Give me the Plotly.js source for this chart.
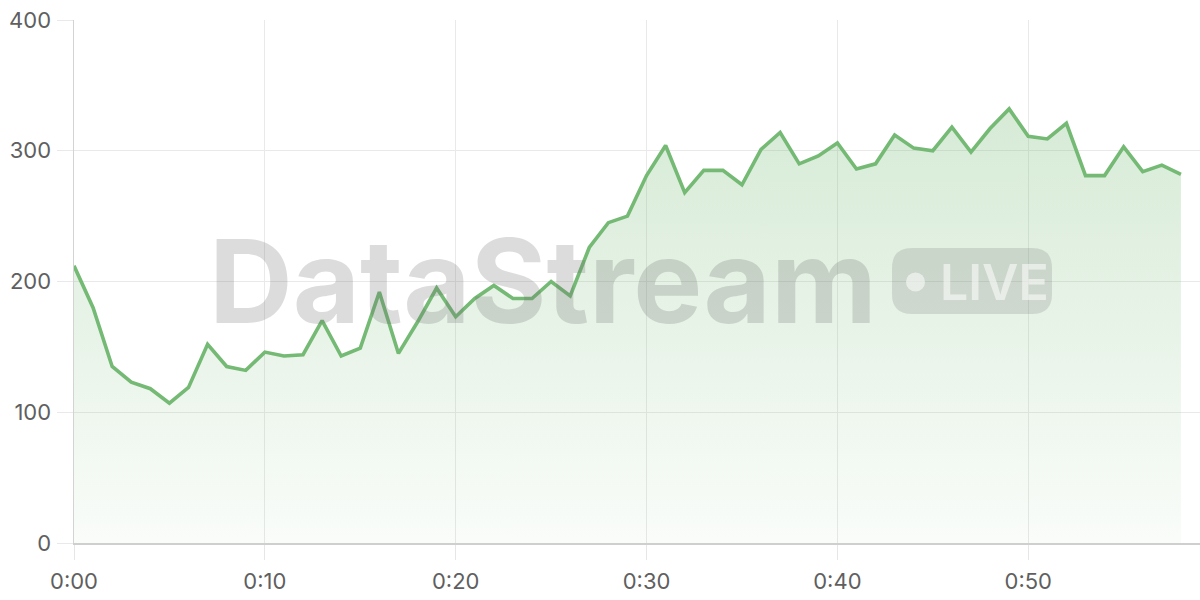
<!DOCTYPE html>
<html>
<head>
<meta charset="utf-8">
<script src="https://cdn.plot.ly/plotly-3.0.1.min.js"></script>
<style>
html,body{margin:0;padding:0;background:#fff;}
#chart{width:1200px;height:600px;}
</style>
</head>
<body>
<div id="chart"></div>
<script>
// Minutes since start (0:00 .. 0:58)
const minutes = [0,1,2,3,4,5,6,7,8,9,10,11,12,13,14,15,16,17,18,19,20,21,22,23,24,25,26,27,28,29,30,31,32,33,34,35,36,37,38,39,40,41,42,43,44,45,46,47,48,49,50,51,52,53,54,55,56,57,58];
const values = [212,180,135,123,118,107,119,152,135,132,146,143,144,170,143,149,192,145,169,195,173,187,197,187,187,200,189,226,245,250,281,304,268,285,285,274,301,314,290,296,306,286,290,312,302,300,318,299,317,332,311,309,321,281,281,303,284,289,282];
const tickVals = [0,10,20,30,40,50];
const tickLabels = ["0:00","0:10","0:20","0:30","0:40","0:50"];
const yTicks = [0,100,200,300,400];

const trace = {
  x: minutes, y: values, type: 'scatter', mode: 'lines',
  line: {color: '#74b974', width: 3.6, shape: 'linear'},
  fill: 'tozeroy',
  fillgradient: {type: 'vertical', start: 0, stop: 340,
    colorscale: [[0, 'rgba(116,185,116,0.04)'], [1, 'rgba(116,185,116,0.30)']]},
  hoverinfo: 'x+y'
};

// plot area in pixels: x 74..1200, y 20..543
const L = 74, R = 1200, T = 20, B = 543;
const px = v => (v - L) / (R - L);
const py = v => (B - v) / (B - T);
function roundRect(x0, y0, x1, y1, r) {
  const a = px(x0), b = px(x1), c = py(y1), d = py(y0);
  const rx = r / (R - L), ry = r / (B - T);
  return `M${a+rx},${c} L${b-rx},${c} Q${b},${c} ${b},${c+ry} L${b},${d-ry} Q${b},${d} ${b-rx},${d} L${a+rx},${d} Q${a},${d} ${a},${d-ry} L${a},${c+ry} Q${a},${c} ${a+rx},${c} Z`;
}

const layout = {
  width: 1200, height: 600,
  margin: {l: 74, r: 0, t: 20, b: 57},
  paper_bgcolor: '#ffffff', plot_bgcolor: '#ffffff',
  showlegend: false,
  font: {family: 'Inter, "Noto Sans", sans-serif', color: '#5f5f5f', size: 22},
  xaxis: {
    range: [0, 59], tickmode: 'array', tickvals: tickVals, ticktext: tickLabels,
    showgrid: true, gridcolor: '#e9e9e9', gridwidth: 1,
    ticks: 'outside', ticklen: 15, tickcolor: '#e6e6e6', tickwidth: 1,
    showline: true, linecolor: '#cfcfcf', linewidth: 1.5,
    zeroline: false, tickfont: {size: 22, color: '#5f5f5f'}, ticklabelstandoff: 3
  },
  yaxis: {
    range: [0, 400], tickmode: 'array', tickvals: yTicks,
    showgrid: true, gridcolor: '#e9e9e9', gridwidth: 1,
    ticks: 'outside', ticklen: 16, tickcolor: '#e9e9e9', tickwidth: 1,
    showline: true, linecolor: '#d3d3d3', linewidth: 1.5,
    zeroline: false, tickfont: {size: 22, color: '#5f5f5f'}, ticklabelstandoff: 1
  },
  shapes: [
    {type: 'path', xref: 'paper', yref: 'paper', path: roundRect(892, 248, 1052, 314, 20),
     fillcolor: 'rgba(110,110,110,0.20)', line: {width: 0}, layer: 'above'},
    {type: 'circle', xref: 'paper', yref: 'paper',
     x0: px(906), x1: px(925), y0: py(291.5), y1: py(272.5),
     fillcolor: 'rgba(255,255,255,0.55)', line: {width: 0}, layer: 'above'}
  ],
  annotations: [
    {text: '<b>DataStream</b>', xref: 'paper', yref: 'paper', x: px(207), y: py(281),
     xanchor: 'left', yanchor: 'middle', showarrow: false,
     font: {family: 'Inter, "Liberation Sans", sans-serif', size: 116, color: 'rgba(110,110,110,0.24)'}},
    {text: 'LIVE', xref: 'paper', yref: 'paper', x: px(938), y: py(282),
     xanchor: 'left', yanchor: 'middle', showarrow: false,
     font: {family: 'Inter, "Liberation Sans", sans-serif', size: 50, weight: 600, color: 'rgba(255,255,255,0.55)'}}
  ]
};

Plotly.newPlot('chart', [trace], layout, {displayModeBar: false, staticPlot: true});
</script>
</body>
</html>
